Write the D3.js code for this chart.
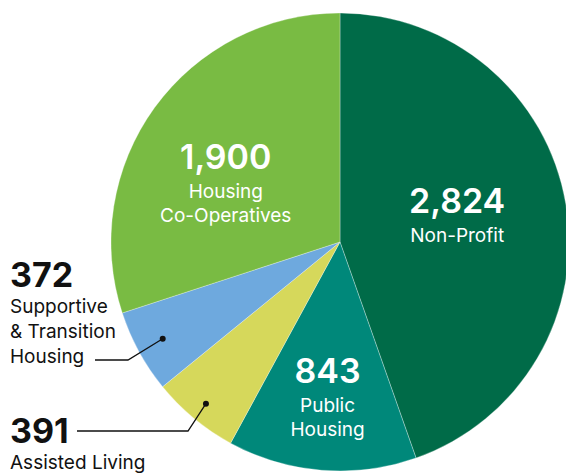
<!DOCTYPE html>
<html>
<head>
<meta charset="utf-8">
<script src="https://cdn.jsdelivr.net/npm/d3@7"></script>
<style>
  body { margin: 0; background: #fff; }
  svg { display: block; font-family: Inter, Lato, sans-serif; }
</style>
</head>
<body>
<svg id="chart"></svg>
<script>
const categories = ["Non-Profit", "Public Housing", "Assisted Living", "Supportive & Transition Housing", "Housing Co-Operatives"];
const values = [2824, 843, 391, 372, 1900];
const valueLabels = ["2,824", "843", "391", "372", "1,900"];
const nameLines = [["Non-Profit"], ["Public", "Housing"], ["Assisted Living"], ["Supportive", "& Transition", "Housing"], ["Housing", "Co-Operatives"]];
const colors = ["#006b48", "#00887a", "#d6d85b", "#6ea9de", "#79bb43"];

const width = 566, height = 474;
const cx = 340, cy = 242, radius = 229;

const svg = d3.select("#chart").attr("width", width).attr("height", height);

const pie = d3.pie().value(d => d).sort(null);
const arcs = pie(values);
const arc = d3.arc().innerRadius(0).outerRadius(radius);

const g = svg.append("g").attr("transform", `translate(${cx},${cy})`);

g.selectAll("path")
  .data(arcs)
  .join("path")
    .attr("d", arc)
    .attr("fill", (d, i) => colors[i])
    .attr("stroke", "rgba(255,255,255,0.5)")
    .attr("stroke-width", 0.6);

// inside labels: distance from centre and angle nudge per slice
const inside = {0: {r: 118, a: 0.05}, 1: {r: 156, a: 0.0}, 4: {r: 128, a: -0.16}};
Object.keys(inside).forEach(k => {
  const i = +k, d = arcs[i];
  const ang = (d.startAngle + d.endAngle) / 2 + inside[k].a;
  const x = Math.sin(ang) * inside[k].r;
  const y = -Math.cos(ang) * inside[k].r;
  const t = g.append("g").attr("transform", `translate(${x},${y})`)
    .attr("fill", "#fff").attr("text-anchor", "middle");
  t.append("text").attr("y", -15).attr("font-size", 34).attr("font-weight", 600).text(valueLabels[i]);
  nameLines[i].forEach((line, j) => {
    t.append("text").attr("y", 14 + j * 24).attr("font-size", 19).text(line);
  });
});

// outside labels with leader lines
const outside = [
  {i: 3, dotR: 202, tx: 10, ty: 287, lineY: 360, lineX0: 95, elbowX: 128},
  {i: 2, dotR: 210, tx: 10, ty: 443, lineY: 431, lineX0: 77, elbowX: 188}
];
outside.forEach(o => {
  const d = arcs[o.i];
  const ang = (d.startAngle + d.endAngle) / 2;
  const dx = cx + Math.sin(ang) * o.dotR;
  const dy = cy - Math.cos(ang) * o.dotR;
  svg.append("path")
    .attr("d", `M${o.lineX0},${o.lineY}H${o.elbowX}L${dx},${dy}`)
    .attr("fill", "none").attr("stroke", "#111").attr("stroke-width", 1.3);
  svg.append("circle").attr("cx", dx).attr("cy", dy).attr("r", 3).attr("fill", "#111");
  svg.append("text").attr("x", o.tx).attr("y", o.ty)
    .attr("font-size", 34).attr("font-weight", 700).attr("fill", "#111")
    .text(valueLabels[o.i]);
  nameLines[o.i].forEach((line, j) => {
    svg.append("text").attr("x", o.tx).attr("y", o.ty + 26 + j * 25)
      .attr("font-size", 19).attr("fill", "#111").text(line);
  });
});
</script>
</body>
</html>
